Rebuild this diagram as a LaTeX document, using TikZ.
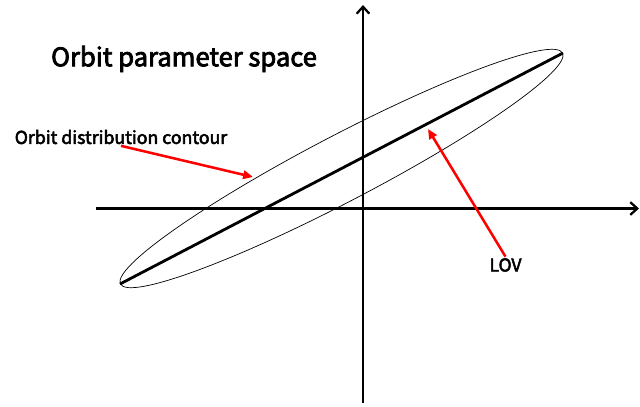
\documentclass[tikz,border=0pt]{standalone}
\usepackage{fontspec}
\setmainfont{Noto Sans CJK SC}
\newfontfamily\medfont{Noto Sans CJK SC}[FakeBold=3]
\usepackage{tikz}
\usetikzlibrary{arrows.meta,calc}
\definecolor{cRed}{HTML}{FF0000}

\begin{document}
\begin{tikzpicture}[x=0.025cm,y=-0.025cm,
  axis/.style={line width=2pt,-{Straight Barb[length=5pt,width=9pt,line width=1.6pt]}},
  lov/.style={line width=2pt},
  contour/.style={line width=0.5pt},
  pointer/.style={cRed,line width=1.8pt,-{Triangle[length=7pt,width=6pt]}},
  lbl/.style={inner sep=1pt}]
\useasboundingbox (0,0) rectangle (640,407);

% axes
\coordinate (xl) at (96,208.5);
\coordinate (xr) at (639,208.5);
\coordinate (yb) at (363,403);
\coordinate (yt) at (363,5);
\draw[axis] (xl) -- (xr);
\draw[axis] (yb) -- (yt);

% line of variation and its contour
\coordinate (lovA) at (120,284);
\coordinate (lovB) at (563,53);
\draw[contour,rotate around={27.6:(341.5,168.5)}] (341.5,168.5) ellipse [x radius=249.4,y radius=33];
\draw[lov] (lovA) -- (lovB);

% labels
\node[lbl,font=\medfont\fontsize{18.2}{20}\selectfont] (title) at (184,59) {Orbit parameter space};
\node[lbl,font=\medfont\fontsize{12.6}{14}\selectfont] (dist) at (121,137) {Orbit distribution contour};
\node[lbl,font=\medfont\fontsize{12.5}{14}\selectfont] (lovlbl) at (505.5,265) {LOV};

\coordinate (onc) at (253,177);
\coordinate (onl) at (428,129);
\draw[pointer] (dist.south) -- (onc);
\draw[pointer] (lovlbl.north) -- (onl);
\end{tikzpicture}
\end{document}
